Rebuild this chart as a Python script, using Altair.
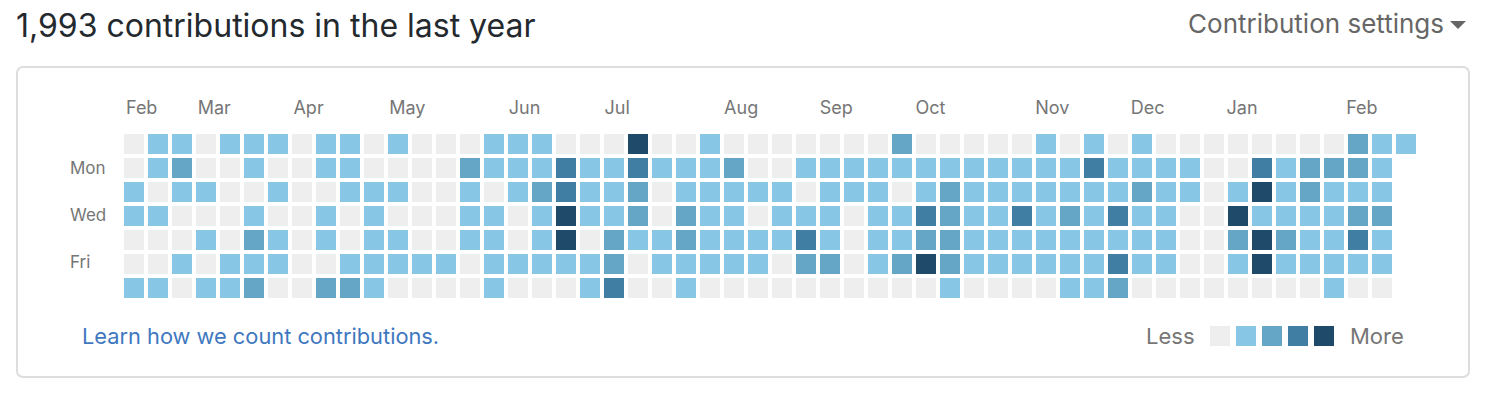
import altair as alt
import pandas as pd

# contribution levels (0 = none .. 4 = most), one list per weekday, one value per week column
sun = [0,1,1,0,1,1,1,0,1,1, 0,1,0,0,0,1,1,1,0,0, 0,4,0,0,1,0,0,0,0,0, 0,0,2,0,0,0,0,0,1,0, 1,0,1,0,0,0,0,0,0,0, 0,2,1,1]
mon = [0,1,2,0,0,1,0,0,1,1, 0,0,0,0,2,1,1,1,3,1, 1,3,1,1,1,2,0,0,1,1, 1,1,1,1,1,1,1,1,1,1, 3,1,1,1,1,0,0,3,1,2, 2,2,1]
tue = [1,0,1,1,0,0,1,0,0,1, 1,1,0,0,1,0,1,2,3,1, 1,2,0,1,1,1,1,1,0,1, 1,1,0,1,2,1,1,1,1,1, 1,1,2,1,1,0,1,4,1,2, 1,1,1]
wed = [1,1,0,0,0,1,0,0,1,0, 1,0,0,0,1,1,0,1,4,1, 1,2,0,2,1,1,0,1,1,1, 0,1,1,3,2,1,1,3,1,2, 1,3,1,1,0,0,4,1,1,1, 1,2,2]
thu = [0,0,0,1,0,2,1,0,1,0, 1,1,0,0,1,1,0,1,4,0, 2,1,1,2,1,1,1,1,3,1, 0,1,1,2,2,1,1,1,1,1, 1,1,1,1,0,0,2,4,2,1, 1,3,1]
fri = [0,0,1,0,1,1,1,0,0,1, 1,1,1,1,0,1,1,1,1,1, 2,0,1,1,1,1,1,0,2,2, 0,1,2,4,2,1,1,1,1,1, 1,3,1,1,0,0,1,4,1,1, 1,1,1]
sat = [1,1,0,1,1,2,0,0,2,2, 1,0,0,0,0,1,0,0,0,1, 3,0,0,1,0,0,0,0,0,0, 0,0,0,0,1,0,0,0,0,1, 1,2,0,0,0,0,0,0,0,0, 1,0,0]
weekdays = [sun, mon, tue, wed, thu, fri, sat]

month_names = ["Feb", "Mar", "Apr", "May", "Jun", "Jul", "Aug", "Sep", "Oct", "Nov", "Dec", "Jan", "Feb"]
month_weeks = [0, 3, 7, 11, 16, 20, 25, 29, 33, 38, 42, 46, 51]

day_names = ["Mon", "Wed", "Fri"]
day_rows = [1, 3, 5]

levels = [0, 1, 2, 3, 4]
level_colors = ["#eeeeee", "#87c7e5", "#65a6c7", "#407ea3", "#1f4a6a"]

N_WEEKS = 54
FONT = "Inter"

cells = pd.DataFrame(
    [{"week": w, "day": d, "level": lv}
     for d, lst in enumerate(weekdays) for w, lv in enumerate(lst)]
)
months = pd.DataFrame({"week": month_weeks, "name": month_names, "key": range(len(month_names))})
days = pd.DataFrame({"day": day_rows, "name": day_names})
legend_df = pd.DataFrame({"level": levels})
one = pd.DataFrame({"k": [0]})

x_scale = alt.Scale(domain=list(range(N_WEEKS)), range=[116, 1408], paddingInner=4 / 24, paddingOuter=0)
y_scale = alt.Scale(domain=list(range(7)), range=[126, 290], paddingInner=4 / 24, paddingOuter=0)
c_scale = alt.Scale(domain=levels, range=level_colors)

box = alt.Chart(one).mark_rect(
    fill="white", stroke="#dddddd", strokeWidth=2, cornerRadius=6
).encode(x=alt.value(9), x2=alt.value(1461), y=alt.value(59), y2=alt.value(369))

grid = alt.Chart(cells).mark_rect().encode(
    x=alt.X("week:O", scale=x_scale, axis=None),
    y=alt.Y("day:O", scale=y_scale, axis=None),
    color=alt.Color("level:O", scale=c_scale, legend=None),
)

month_text = alt.Chart(months).mark_text(
    align="left", baseline="alphabetic", fontSize=18, font=FONT, color="#767676", dx=-10
).encode(
    x=alt.X("week:O", scale=x_scale, axis=None),
    y=alt.value(106),
    text="name:N",
    detail="key:N",
)

day_text = alt.Chart(days).mark_text(
    align="left", baseline="alphabetic", fontSize=17, font=FONT, color="#767676", dy=5
).encode(
    x=alt.value(62),
    y=alt.Y("day:O", scale=y_scale, axis=None),
    text="name:N",
)

title = alt.Chart(one).mark_text(
    align="left", baseline="alphabetic", fontSize=32, font=FONT, color="#24292e",
    text="1,993 contributions in the last year",
).encode(x=alt.value(8), y=alt.value(29))

settings = alt.Chart(one).mark_text(
    align="right", baseline="alphabetic", fontSize=26, font=FONT, color="#666666",
    text="Contribution settings",
).encode(x=alt.value(1436), y=alt.value(25))

caret = alt.Chart(one).mark_point(
    shape="M-1,-0.5L1,-0.5L0,0.5Z", filled=True, size=256, color="#666666", opacity=1
).encode(x=alt.value(1450), y=alt.value(17))

link = alt.Chart(one).mark_text(
    align="left", baseline="alphabetic", fontSize=21.8, font=FONT, color="#4078c0",
    text="Learn how we count contributions.",
).encode(x=alt.value(74), y=alt.value(336))

less = alt.Chart(one).mark_text(
    align="left", baseline="alphabetic", fontSize=22, font=FONT, color="#767676", text="Less",
).encode(x=alt.value(1138), y=alt.value(336))

more = alt.Chart(one).mark_text(
    align="left", baseline="alphabetic", fontSize=22, font=FONT, color="#767676", text="More",
).encode(x=alt.value(1342), y=alt.value(336))

legend_cells = alt.Chart(legend_df).mark_rect().encode(
    x=alt.X("level:O", scale=alt.Scale(domain=levels, range=[1202, 1326], paddingInner=6 / 26, paddingOuter=0), axis=None),
    y=alt.value(318),
    y2=alt.value(338),
    color=alt.Color("level:O", scale=c_scale, legend=None),
)

chart = alt.layer(
    box, grid, month_text, day_text, title, settings, caret, link, less, more, legend_cells
).resolve_scale(x="independent", y="independent").properties(
    width=1472, height=380, autosize=alt.AutoSizeParams(type="none"), padding=0, background="white"
).configure_view(stroke=None)

chart.save("out.html", embed_options={"renderer": "svg", "actions": False})
